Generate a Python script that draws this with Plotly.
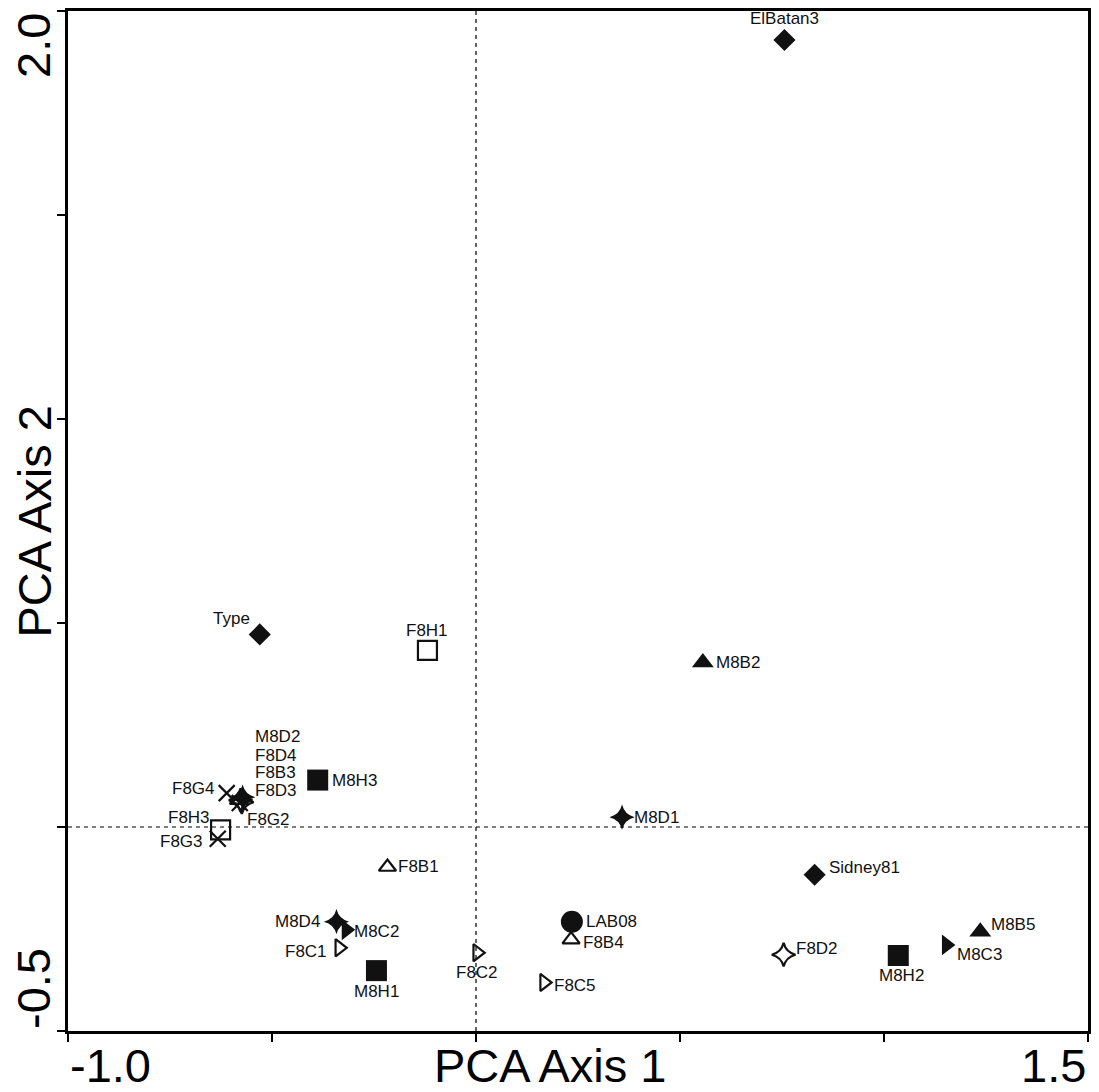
import plotly.graph_objects as go

# PCA scores per sample
samples = ["ElBatan3", "Type", "F8H1", "M8B2", "M8H3", "M8D2", "F8D4", "F8B3",
           "F8D3", "F8G4", "F8G2", "F8H3", "F8G3", "M8D1", "F8B1", "Sidney81",
           "M8D4", "M8C2", "LAB08", "F8B4", "F8C1", "M8H1", "F8C2", "F8D2",
           "M8H2", "M8C3", "M8B5", "F8C5"]
pc1 = [0.756, -0.530, -0.119, 0.556, -0.388, -0.572, -0.577, -0.582,
       -0.574, -0.611, -0.579, -0.626, -0.633, 0.358, -0.217, 0.830,
       -0.342, -0.318, 0.235, 0.233, -0.335, -0.244, 0.003, 0.754,
       1.035, 1.153, 1.236, 0.167]
pc2 = [1.929, 0.472, 0.433, 0.403, 0.115, 0.073, 0.066, 0.066,
       0.061, 0.083, 0.059, -0.007, -0.029, 0.024, -0.098, -0.117,
       -0.232, -0.252, -0.232, -0.276, -0.296, -0.352, -0.308, -0.313,
       -0.315, -0.289, -0.257, -0.381]
groups = ["ref", "ref", "F8H", "M8B", "M8H", "M8D", "F8D", "F8B",
          "F8D", "F8G", "F8G", "F8H", "F8G", "M8D", "F8B", "ref",
          "M8D", "M8C", "lab", "F8B", "F8C", "M8H", "F8C", "F8D",
          "M8H", "M8C", "M8B", "F8C"]

x_range = [-1.0, 1.5]
y_range = [-0.5, 2.0]
tick_step = 0.5

# marker style per group: symbol, size, outline width
group_style = {
    "ref": ("diamond", 17, 0),
    "F8H": ("square-open", 19, 2.2),
    "M8H": ("square", 21, 0),
    "M8B": ("triangle-up", 19, 0),
    "F8B": ("triangle-up-open", 15, 2.2),
    "M8C": ("triangle-right", 18, 0),
    "F8C": ("triangle-right-open", 15, 2.2),
    "M8D": ("star-diamond", 18, 0),
    "F8D": ("star-diamond-open", 17, 2.2),
    "F8G": ("x-thin-open", 16, 2.2),
    "lab": ("circle", 22, 0),
}

# label placement: (xanchor, xshift, yshift) in pixels relative to the marker
label_place = {
    "ElBatan3": ("center", 0, 21), "Type": ("right", -8, 16),
    "F8H1": ("center", 0, 20), "M8B2": ("left", 11, 0),
    "M8H3": ("left", 12, 0), "M8D2": ("left", 10, 61),
    "F8D4": ("left", 12, 45), "F8B3": ("left", 14, 28),
    "F8D3": ("left", 11, 12), "F8G4": ("right", -10, 5),
    "F8G2": ("left", 5, -17), "F8H3": ("right", -9, 12),
    "F8G3": ("right", -13, -3), "M8D1": ("left", 10, 0),
    "F8B1": ("left", 9, 0), "Sidney81": ("left", 12, 7),
    "M8D4": ("right", -14, 0), "M8C2": ("left", 6, -2),
    "LAB08": ("left", 12, 0), "F8B4": ("left", 10, -3),
    "F8C1": ("right", -10, -4), "M8H1": ("center", 0, -21),
    "F8C2": ("center", 0, -20), "F8D2": ("left", 10, 6),
    "M8H2": ("center", 3, -20), "M8C3": ("left", 9, -10),
    "M8B5": ("left", 9, 7), "F8C5": ("left", 8, -3),
}

ink = "#111111"
fig = go.Figure()

for g, (symbol, size, lw) in group_style.items():
    idx = [i for i, gg in enumerate(groups) if gg == g]
    fig.add_trace(go.Scatter(
        x=[pc1[i] for i in idx], y=[pc2[i] for i in idx],
        mode="markers", showlegend=False, hoverinfo="text",
        text=[samples[i] for i in idx],
        marker=dict(symbol=symbol, size=size, color=ink,
                    line=dict(color=ink, width=lw)),
    ))

annotations = []
for name, xv, yv in zip(samples, pc1, pc2):
    anchor, dx, dy = label_place[name]
    annotations.append(dict(
        x=xv, y=yv, xref="x", yref="y", text=name, showarrow=False,
        xanchor=anchor, yanchor="middle", xshift=dx, yshift=dy,
        font=dict(family="Liberation Sans, Arial", size=17, color=ink),
    ))

big = dict(family="Liberation Sans, Arial", size=47, color="black")
# end tick labels sit inside the axis span
annotations += [
    dict(x=0, y=0, xref="paper", yref="paper", text=f"{x_range[0]:.1f}",
         showarrow=False, xanchor="left", yanchor="top", yshift=-6, font=big),
    dict(x=1, y=0, xref="paper", yref="paper", text=f"{x_range[1]:.1f}",
         showarrow=False, xanchor="right", yanchor="top", yshift=-6, font=big),
    dict(x=0, y=1, xref="paper", yref="paper", text=f"{y_range[1]:.1f}",
         showarrow=False, xanchor="right", yanchor="top", xshift=-6,
         textangle=-90, font=big),
    dict(x=0, y=0, xref="paper", yref="paper", text=f"{y_range[0]:.1f}",
         showarrow=False, xanchor="right", yanchor="bottom", xshift=-6,
         textangle=-90, font=big),
    dict(x=0.4726, y=0, xref="paper", yref="paper", text="PCA Axis 1",
         showarrow=False, xanchor="center", yanchor="top", yshift=-6, font=big),
    dict(x=0, y=0.5, xref="paper", yref="paper", text="PCA Axis 2",
         showarrow=False, xanchor="right", yanchor="middle", xshift=-6,
         textangle=-90, font=big),
]

ticks = [x_range[0] + i * tick_step for i in range(6)]
yticks = [y_range[0] + i * tick_step for i in range(6)]
axis_common = dict(showgrid=False, zeroline=False, showticklabels=False,
                   ticks="outside", ticklen=8, tickwidth=2, tickcolor="black",
                   showline=True, linecolor="black", linewidth=2.5, mirror=True)

fig.update_layout(
    width=1099, height=1092,
    margin=dict(l=68, r=9, t=8, b=61),
    paper_bgcolor="white", plot_bgcolor="white",
    xaxis=dict(range=x_range, tickvals=ticks, **axis_common),
    yaxis=dict(range=y_range, tickvals=yticks, **axis_common),
    annotations=annotations,
    shapes=[
        dict(type="line", xref="x", yref="paper", x0=0, x1=0, y0=0, y1=1,
             line=dict(color="black", width=1.2, dash="4px,4px"), layer="below"),
        dict(type="line", xref="paper", yref="y", x0=0, x1=1, y0=0, y1=0,
             line=dict(color="black", width=1.2, dash="4px,4px"), layer="below"),
    ],
)

fig.write_html("out.html")
